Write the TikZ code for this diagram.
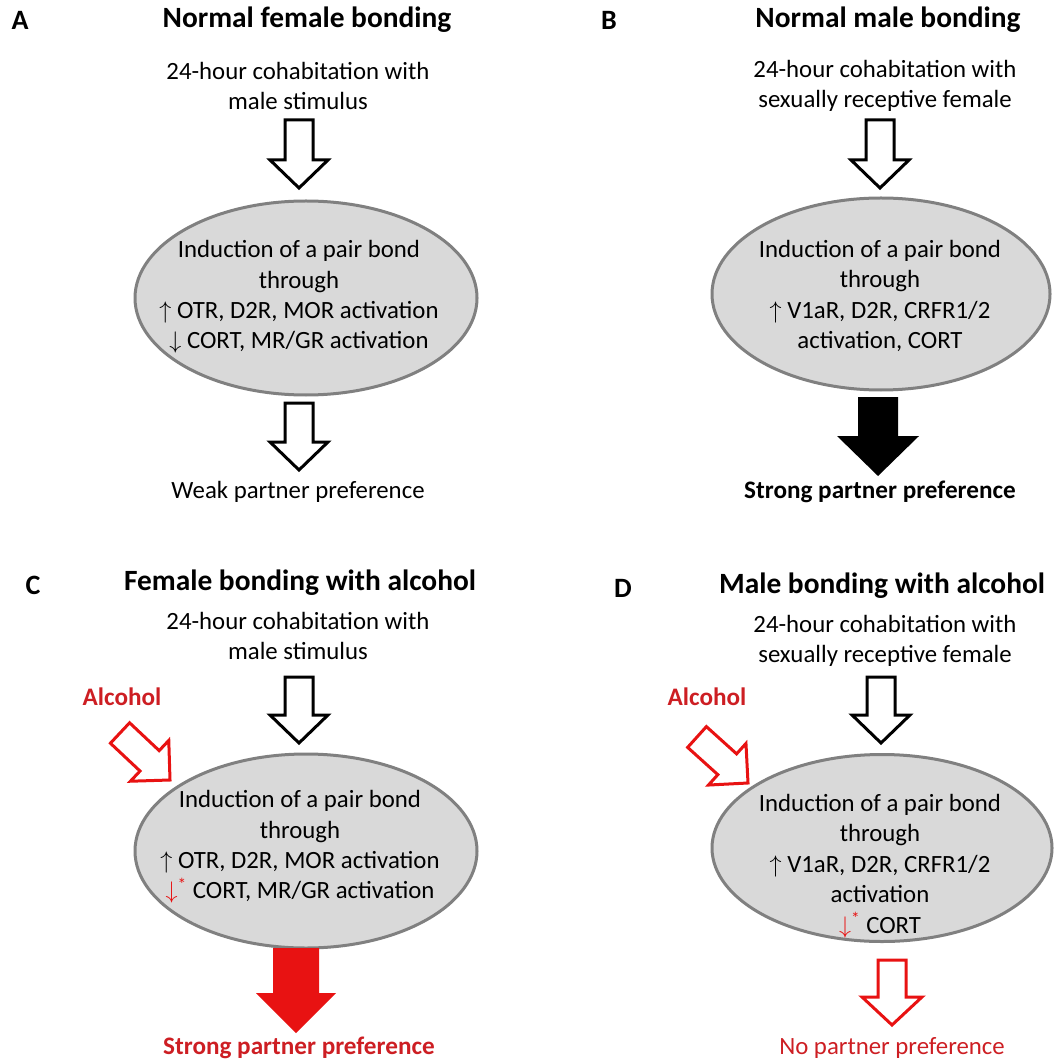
\documentclass[tikz,border=0pt]{standalone}
\usepackage{fontspec}
\setmainfont{Carlito}
\usetikzlibrary{shapes.geometric,calc}
\definecolor{ellfill}{RGB}{217,217,217}
\definecolor{elldraw}{RGB}{128,128,128}
\definecolor{alred}{RGB}{232,18,18}
\definecolor{txtred}{RGB}{205,30,35}
\newcommand{\fatarrow}[6]{%
  \coordinate (neck) at ($(#3)!#6!(#2)$);
  \path[#1] ($(#2)!#4!90:(#3)$) -- ($(neck)!#4!90:(#3)$) -- ($(neck)!#5!90:(#3)$) -- (#3)
    -- ($(neck)!#5!-90:(#3)$) -- ($(neck)!#4!-90:(#3)$) -- ($(#2)!#4!-90:(#3)$) -- cycle;
}
\newcommand{\redown}{{\color{alred}$\downarrow$\textsuperscript{*}}}
\tikzset{
  lbl/.style={font=\fontsize{14}{17}\selectfont\bfseries, inner sep=0pt},
  ttl/.style={font=\fontsize{14.7}{17}\selectfont\bfseries, inner sep=0pt},
  txt/.style={font=\fontsize{12.4}{15.2}\selectfont, align=center, inner sep=0pt},
  bond/.style={ellipse, draw=elldraw, line width=1.5pt, fill=ellfill, minimum width=171pt, minimum height=97pt, inner sep=0pt},
  hollow/.style={draw=black, line width=1.5pt, fill=white, line join=miter},
  redhollow/.style={draw=alred, line width=1.5pt, fill=white, line join=miter},
  solid black/.style={fill=black},
  solid red/.style={fill=alred}
}
\begin{document}
\begin{tikzpicture}[x=0.5pt, y=-0.5pt]
  \useasboundingbox (0,0) rectangle (1053,1063);
  % A
  \node[lbl] (labA) at (20,20) {A};
  \node[ttl] (ttlA) at (307,20) {Normal female bonding};
  \node[txt] (stimA) at (298,86) {24-hour cohabitation with\\male stimulus};
  \node[bond] (ellA) at (306,298) {};
  \node[txt] (indA) at (299,297) {Induction of a pair bond\\through\\$\uparrow$ OTR, D2R, MOR activation\\$\downarrow$ CORT, MR/GR activation};
  \node[txt] (outA) at (298,492) {Weak partner preference};
  \coordinate (a1) at (299,120); \coordinate (a2) at (299,188);
  \coordinate (a3) at (299,403); \coordinate (a4) at (299,470);
  \fatarrow{hollow}{a1}{a2}{7pt}{14.5pt}{14pt}
  \fatarrow{hollow}{a3}{a4}{7pt}{14.5pt}{14pt}
  % B
  \node[lbl] (labB) at (609,20) {B};
  \node[ttl] (ttlB) at (888,20) {Normal male bonding};
  \node[txt] (stimB) at (885,86) {24-hour cohabitation with\\sexually receptive female};
  \node[bond, minimum width=169pt, minimum height=96pt] (ellB) at (881,294) {};
  \node[txt] (indB) at (880,296) {Induction of a pair bond\\through\\$\uparrow$ V1aR, D2R, CRFR1/2\\activation, CORT};
  \node[txt, font=\fontsize{12.6}{15}\selectfont\bfseries] (outB) at (880,492) {Strong partner preference};
  \coordinate (b1) at (880,120); \coordinate (b2) at (880,188);
  \coordinate (b3) at (878,397); \coordinate (b4) at (878,476);
  \fatarrow{hollow}{b1}{b2}{7pt}{14.5pt}{14pt}
  \fatarrow{solid black}{b3}{b4}{10pt}{20.5pt}{20pt}
  % C
  \node[lbl] (labC) at (33,585) {C};
  \node[ttl] (ttlC) at (300,583) {Female bonding with alcohol};
  \node[txt] (stimC) at (298,636) {24-hour cohabitation with\\male stimulus};
  \node[txt, font=\fontsize{12.6}{15}\selectfont\bfseries, text=txtred] (alcC) at (122,697) {Alcohol};
  \node[bond] (ellC) at (306,851) {};
  \node[txt] (indC) at (300,847) {Induction of a pair bond\\through\\$\uparrow$ OTR, D2R, MOR activation\\\redown\ CORT, MR/GR activation};
  \node[txt, font=\fontsize{12.6}{15}\selectfont\bfseries, text=txtred] (outC) at (299,1048) {Strong partner preference};
  \coordinate (c1) at (299,677); \coordinate (c2) at (299,743);
  \coordinate (c5) at (120,733); \coordinate (c6) at (170,780);
  \coordinate (c3) at (296,948); \coordinate (c4) at (296,1033);
  \fatarrow{hollow}{c1}{c2}{7pt}{14.5pt}{14pt}
  \fatarrow{redhollow}{c5}{c6}{7pt}{14pt}{14pt}
  \fatarrow{solid red}{c3}{c4}{11.5pt}{20pt}{20pt}
  % D
  \node[lbl] (labD) at (623,588) {D};
  \node[ttl] (ttlD) at (882,586) {Male bonding with alcohol};
  \node[txt] (stimD) at (885,641) {24-hour cohabitation with\\sexually receptive female};
  \node[txt, font=\fontsize{12.6}{15}\selectfont\bfseries, text=txtred] (alcD) at (707,697) {Alcohol};
  \node[bond, minimum width=170pt, minimum height=93.5pt] (ellD) at (882,848) {};
  \node[txt] (indD) at (880,866) {Induction of a pair bond\\through\\$\uparrow$ V1aR, D2R, CRFR1/2\\activation\\\redown\ CORT};
  \node[txt, text=txtred] (outD) at (892,1048) {No partner preference};
  \coordinate (d1) at (881,677); \coordinate (d2) at (881,743);
  \coordinate (d5) at (697,737); \coordinate (d6) at (748,783);
  \coordinate (d3) at (892,960); \coordinate (d4) at (892,1025);
  \fatarrow{hollow}{d1}{d2}{7pt}{14.5pt}{14pt}
  \fatarrow{redhollow}{d5}{d6}{7pt}{14pt}{14pt}
  \fatarrow{redhollow}{d3}{d4}{7pt}{15pt}{14pt}
\end{tikzpicture}
\end{document}
